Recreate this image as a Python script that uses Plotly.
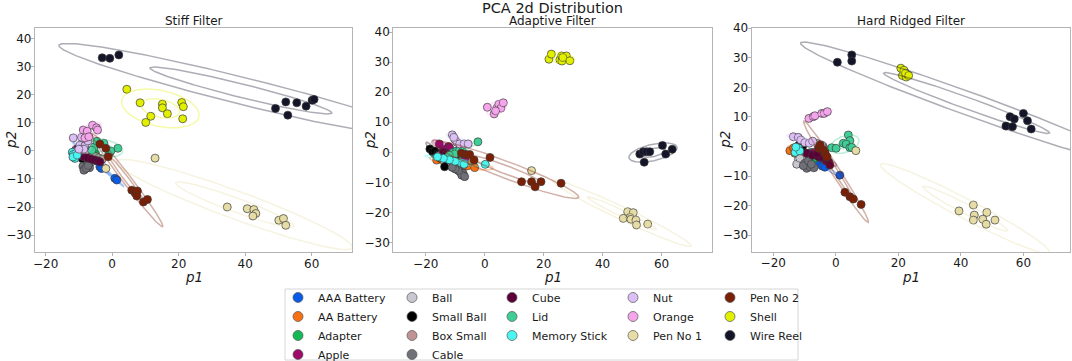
import numpy as np
import plotly.graph_objects as go

# ---------------- data ----------------
CATEGORIES = ["AAA Battery", "AA Battery", "Adapter", "Apple", "Ball", "Small Ball",
              "Box Small", "Cable", "Cube", "Lid", "Memory Stick", "Nut", "Orange",
              "Pen No 1", "Pen No 2", "Shell", "Wire Reel"]
COLORS = ["#0a5ce6", "#f77012", "#13b955", "#9c0a6a", "#c8c8d0", "#000000",
          "#c09494", "#707078", "#5c0038", "#3fcf96", "#4af5f0", "#dcc0f5", "#f5a5ec",
          "#e6dca5", "#7a2005", "#e2f000", "#15152a"]
LEGEND_COLUMN = [1, 1, 1, 1, 2, 2, 2, 2, 3, 3, 3, 4, 4, 4, 5, 5, 5]
PANEL_TITLES = ["Stiff Filter", "Adaptive Filter", "Hard Ridged Filter"]
MAIN_TITLE = "PCA 2d Distribution"
X_LABEL = "p1"
Y_LABEL = "p2"
X_TICKS = [-20, 0, 20, 40, 60]
Y_TICKS = [-30, -20, -10, 0, 10, 20, 30, 40]

STIFF_X = {
    "AAA Battery": [-9.5, -8, -6.5, -5, -3.7, -3.2, 0.8, 1.4],
    "AA Battery": [-11, -10.5, -10, -9.5, -9, -10.2],
    "Adapter": [-7, -6, -5, -6.5, -5.5],
    "Apple": [-10, -9.5, -9, -8.5, -8],
    "Ball": [-8, -7.5, -7, -6.5, -8.2],
    "Small Ball": [-10, -9.5, -9, -8.5, -8, -7.5, -9, -8],
    "Box Small": [-7, -6, -5, -4, -3],
    "Cable": [-8.8, -8.2, -7.5, -7, -6.8, -8.5, -7.8, -7.2],
    "Cube": [-10.8, -9.7, -8.5, -7.3, -6.2, -5.2, -4.3, -3.7],
    "Lid": [-5.4, -4.6, -2.5, 1.7, -6.1, -1.0, -0.4],
    "Memory Stick": [-12, -11.7, -11.5, -11.2, -11, -11.8, -10.5],
    "Nut": [-11.7, -9.2, -9.7, -8.2, -8.5, -10.0, -7.3],
    "Orange": [-8.7, -7.5, -5.9, -4.7, -4.4, -8.2, -7.0],
    "Pen No 1": [12.9, 34.6, 40.6, 42.6, 43.2, 42.3, 50.1, 51.5, 52.2, -1.9],
    "Pen No 2": [-3.7, -1.9, -1.2, 5.9, 6.9, 7.6, 7.4, 9.4, 10.6],
    "Shell": [4.4, 8.4, 11.6, 10.1, 15.1, 15.1, 16.6, 20.9, 21.4, 21.2],
    "Wire Reel": [-3.0, -0.7, 2.0, 49.1, 52.2, 52.8, 55.5, 58.3, 60.1, 60.7],
}
STIFF_Y = {
    "AAA Battery": [0.5, -0.8, -2, -3.5, -5.7, -6.3, -9.8, -10.4],
    "AA Battery": [0, -0.5, -1, -1.5, -2, -0.8],
    "Adapter": [0, -0.5, -1, -1.5, 0.5],
    "Apple": [0.5, 0, -0.5, -1, -1.5],
    "Ball": [-4, -4.5, -5, -4.2, -5.2],
    "Small Ball": [-0.5, -1, -1.5, -2, -2.5, -3, -2.8, -1.2],
    "Box Small": [-1, -1.5, -2, -2.5, -3],
    "Cable": [-5.5, -6.5, -5.0, -4.5, -6.0, -6.9, -6.2, -5.2],
    "Cube": [0.6, -1.8, -2.2, -2.6, -3.0, -3.3, -3.6, -3.9],
    "Lid": [1.4, 3.4, 2.7, 0.9, 0.2, -1.2, -0.1],
    "Memory Stick": [-0.5, -1.3, -2.0, -2.7, -1.0, -2.2, -1.5],
    "Nut": [4.6, 4.8, 2.0, 1.8, 0.6, 0.6, 3.5],
    "Orange": [7.4, 7.0, 9.1, 8.2, 7.4, 4.6, 5.0],
    "Pen No 1": [-2.6, -20.0, -20.6, -20.9, -22.3, -23.2, -24.7, -24.1, -26.5, -6.3],
    "Pen No 2": [2.4, 0.9, -2.1, -14.0, -15.0, -14.3, -16.1, -18.2, -17.3],
    "Shell": [21.9, 17.1, 12.3, 10.1, 16.6, 15.3, 13.2, 17.2, 15.7, 11.4],
    "Wire Reel": [33.1, 32.9, 34.1, 15.1, 17.4, 12.7, 17.1, 15.9, 18.0, 18.3],
}

ADAPTIVE_X = {
    "AAA Battery": [-17, -15, -13, -11, -9, -8],
    "AA Battery": [-16.3, -6.8, -5.7, -4.0, -3.4, -4.5, -15],
    "Adapter": [-12, -11, -10, -9, -8],
    "Apple": [-15.4, -12.3, -13.0, -11.9, -14.1, -6.8, -10],
    "Ball": [-11, -10, -9, -8, -9.5],
    "Small Ball": [-18.6, -17.7, -16.9, -16, -15, -13.6],
    "Box Small": [-15, -13, -11, -9, -12],
    "Cable": [-8.4, -7.3, -7.8, -6.8, -9, -10, -11],
    "Cube": [-14, -13, -12, -11, -10],
    "Lid": [-2.3, -10.7, -9.6, -8.5, -10.2, -12, -7.5],
    "Memory Stick": [0.2, -8, -10, -12, -14, -16, -7],
    "Nut": [-11.0, -10.2, -9.4, -8.5, -7.0, -5.6, -10.5],
    "Orange": [0.9, 3.2, 4.1, 4.8, 5.5, 6.3, 3.7],
    "Pen No 1": [15.9, 48.5, 50.4, 47.0, 49.3, 49.6, 51.3, 51.5, 55.3],
    "Pen No 2": [-7.9, -6.4, -5.1, -3.6, 1.8, 12.5, 15.9, 17.1, 19.1, 25.9],
    "Shell": [21.8, 22.6, 25.5, 26.1, 26.2, 27.7, 28.9, 26.5],
    "Wire Reel": [52.6, 53.8, 54.9, 56.0, 54.1, 60.3, 61.4, 63.6],
}
ADAPTIVE_Y = {
    "AAA Battery": [-0.5, -1.5, -2.5, -3, -3.8, -4.2],
    "AA Battery": [-2.6, -4.5, -4.5, -3.7, -5.1, -2.8, -2],
    "Adapter": [-1, -0.5, 0, -1.5, -2],
    "Apple": [2.8, 1.9, 1.1, 1.5, 0.8, -2.6, 0],
    "Ball": [-5, -5.5, -6, -6.5, -4.5],
    "Small Ball": [1.1, 0.2, 0.4, -0.5, -1.5, -4.8],
    "Box Small": [-1, -2, -3, -4, -1.5],
    "Cable": [-6.5, -7.0, -7.6, -8.1, -6, -5.5, -5],
    "Cube": [0, -0.5, -1, -1.5, -2],
    "Lid": [3.5, 0.0, 0.4, 0.8, -0.6, -1, 0.3],
    "Memory Stick": [-4.0, -3.5, -3, -2.5, -2, -1.5, -4],
    "Nut": [5.8, 4.4, 3.3, 2.8, 2.8, 2.8, 5.0],
    "Orange": [15.0, 12.8, 14.7, 16.0, 14.7, 16.5, 13.8],
    "Pen No 1": [-6.1, -19.8, -20.1, -22.0, -21.7, -22.3, -22.6, -24.2, -23.9],
    "Pen No 2": [-0.3, -0.7, -0.7, -2.6, -1.7, -9.8, -9.8, -11.5, -9.8, -10.3],
    "Shell": [31.0, 32.7, 30.8, 32.1, 30.4, 32.1, 30.5, 31.6],
    "Wire Reel": [-0.6, 0.2, 0.2, 0.2, -3.3, 2.3, -0.6, 1.0],
}

HARD_X = {
    "AAA Battery": [-11, -9.5, -8.2, -6.0, -4.4, -3.5, 1.3, -7],
    "AA Battery": [-14.7, -13.1, -11.7, -10.9, -12.5, -10, -13.5],
    "Adapter": [-8, -7, -6, -5, -6.5],
    "Apple": [-7, -6, -5, -4, -3],
    "Ball": [-12, -11, -10, -12.5, -11.5],
    "Small Ball": [-11.4, -11, -10.5, -12, -11.8],
    "Box Small": [-6, -5, -4, -5.5, -3.5],
    "Cable": [-9.9, -9.3, -8.3, -10.4, -7.0, -8.8, -7.8],
    "Cube": [-9.3, -7.5, -5.5, -4.4, -2.8, -2.3, -1.9, -6],
    "Lid": [4.0, 4.5, 2.4, 3.3, -1.3, 0.1, 4.5, 5.1],
    "Memory Stick": [-12.4, -13, -12, -11.5, -12.8],
    "Nut": [-13.6, -12.0, -11.2, -9.9, -8.5, -7.4, -4.5],
    "Orange": [-8.6, -7.2, -6.7, -4.5, -3.7, -2.7],
    "Pen No 1": [6.4, 39.4, 44.0, 44.3, 44.0, 48.3, 47.0, 48.1, 50.9],
    "Pen No 2": [-5.5, -5.0, -3.9, -3.4, -2.8, 2.9, 4.5, 5.6, 8.1],
    "Shell": [20.8, 21.3, 22.0, 22.5, 23.0, 21.8, 22.3, 23.3],
    "Wire Reel": [0.5, 5.1, 5.1, 54.4, 55.7, 57.1, 56.5, 60.0, 61.3, 62.5],
}
HARD_Y = {
    "AAA Battery": [-1, -2.2, -3.5, -5.2, -6.6, -7, -9.7, -4.3],
    "AA Battery": [-1.4, -2.3, -3.5, -4.0, -1, -2.5, -0.5],
    "Adapter": [-2, -2.5, -3, -3.5, -4],
    "Apple": [-2, -3, -3.5, -4, -5],
    "Ball": [-4.5, -5.5, -5, -6, -4],
    "Small Ball": [-0.1, -0.8, 0.3, -0.5, 0.5],
    "Box Small": [1, 0.5, 0, -0.5, -1],
    "Cable": [-5.7, -7.4, -6.9, -6.5, -7.2, -4.8, -6.0],
    "Cube": [-2.3, -3, -3.5, -3.5, -4.6, -5.2, -6.3, -2.5],
    "Lid": [3.9, 2.0, 1.1, 0.8, -0.4, -0.6, -0.4, -0.3],
    "Memory Stick": [-1.2, -2, -0.5, -1.5, -0.2],
    "Nut": [3.3, 3.1, 2.2, 1.3, 1.1, 1.8, 0.5],
    "Orange": [9.5, 10.1, 10.4, 11.2, 11.2, 11.8],
    "Pen No 1": [-1.4, -21.8, -19.8, -23.2, -24.9, -22.3, -24.6, -26.3, -24.9],
    "Pen No 2": [-0.6, 0.5, -1.2, -2.3, -3.5, -15.5, -17.0, -17.8, -19.6],
    "Shell": [26.5, 24.0, 25.3, 23.5, 24.2, 25.8, 24.8, 24.0],
    "Wire Reel": [28.5, 31.0, 28.9, 6.9, 10.1, 9.3, 6.7, 11.2, 8.7, 5.9],
}

PANELS = [(STIFF_X, STIFF_Y), (ADAPTIVE_X, ADAPTIVE_Y), (HARD_X, HARD_Y)]

# ---------------- layout geometry (page pixels) ----------------
W, H = 1072, 361
X_DOMAINS = [(35, 352), (393.3, 711.7), (751.7, 1070)]
Y_DOMAINS = [(28, 252), (28.3, 252.3), (27.7, 251.7)]
X_RANGES = [(-23.2, 72.1), (-31.0, 77.0), (-26.9, 74.9)]
Y_RANGES = [(-36.0, 43.7), (-33.3, 41.3), (-35.6, 40.2)]
P2_LABEL_X = [11, 370, 725]
TEXT_COLOR = "#1a1a1a"
FONT = "DejaVu Sans"


def px(xp):
    return xp / W


def py(yp):
    return 1 - yp / H


def hex_rgba(h, a):
    h = h.lstrip("#")
    r, g, b = int(h[0:2], 16), int(h[2:4], 16), int(h[4:6], 16)
    return f"rgba({r},{g},{b},{a})"


def confidence_ellipse(x, y, n_std):
    x = np.asarray(x, float)
    y = np.asarray(y, float)
    cov = np.cov(x, y)
    pearson = cov[0, 1] / np.sqrt(cov[0, 0] * cov[1, 1])
    rx, ry = np.sqrt(1 + pearson), np.sqrt(1 - pearson)
    t = np.linspace(0, 2 * np.pi, 240)
    ex, ey = rx * np.cos(t), ry * np.sin(t)
    c = s = np.sqrt(0.5)
    xr, yr = ex * c - ey * s, ex * s + ey * c
    sx, sy = np.sqrt(cov[0, 0]) * n_std, np.sqrt(cov[1, 1]) * n_std
    return xr * sx + x.mean(), yr * sy + y.mean()


fig = go.Figure()

for p, (PX, PY) in enumerate(PANELS):
    xa = "x" if p == 0 else f"x{p+1}"
    ya = "y" if p == 0 else f"y{p+1}"
    for cat, col in zip(CATEGORIES, COLORS):
        xs, ys = PX[cat], PY[cat]
        fig.add_trace(go.Scatter(
            x=xs, y=ys, mode="markers", xaxis=xa, yaxis=ya, showlegend=False,
            marker=dict(size=8, color=col, line=dict(color="#3a3a3a", width=0.7)),
            hoverinfo="skip"))
        for n in (1, 2):
            ex, ey = confidence_ellipse(xs, ys, n)
            fig.add_trace(go.Scatter(
                x=ex, y=ey, mode="lines", xaxis=xa, yaxis=ya, showlegend=False,
                line=dict(color=hex_rgba(col, 0.35), width=1.5), hoverinfo="skip"))

# legend entries (column-wise like the original)
for cat, col, lc in zip(CATEGORIES, COLORS, LEGEND_COLUMN):
    fig.add_trace(go.Scatter(
        x=[None], y=[None], mode="markers", name=cat,
        legend="legend" if lc == 1 else f"legend{lc}",
        marker=dict(size=10, color=col, line=dict(color="#555555", width=0.7)),
        showlegend=True))

layout = dict(
    width=W, height=H, margin=dict(l=0, r=0, t=0, b=0, autoexpand=False),
    paper_bgcolor="white", plot_bgcolor="white",
    font=dict(family=FONT, color=TEXT_COLOR, size=12),
)

for p in range(3):
    sfx = "" if p == 0 else str(p + 1)
    x0, x1 = X_DOMAINS[p]
    y0, y1 = Y_DOMAINS[p]
    common = dict(
        showline=True, mirror=True, linecolor="#b4b4b4", linewidth=1.2,
        ticks="outside", ticklen=3, tickcolor="#b4b4b4", showgrid=False, zeroline=False,
        tickfont=dict(size=12, family=FONT, color=TEXT_COLOR), automargin=False,
        ticklabelstandoff=-3,
    )
    layout[f"xaxis{sfx}"] = dict(
        domain=[px(x0), px(x1)], range=list(X_RANGES[p]), anchor=f"y{sfx}",
        tickvals=X_TICKS, ticktext=[str(v).replace("-", "\u2212") for v in X_TICKS], **common)
    layout[f"yaxis{sfx}"] = dict(
        domain=[py(y1), py(y0)], range=list(Y_RANGES[p]), anchor=f"x{sfx}",
        tickvals=Y_TICKS, ticktext=[str(v).replace("-", "\u2212") for v in Y_TICKS], **common)

annotations = [dict(text=MAIN_TITLE, x=px(552.5), y=py(8.5), xref="paper", yref="paper",
                    showarrow=False, xanchor="center", yanchor="middle",
                    font=dict(size=14.5, family=FONT, color=TEXT_COLOR))]
for p, t in enumerate(PANEL_TITLES):
    x0, x1 = X_DOMAINS[p]
    annotations.append(dict(text=t, x=px((x0 + x1) / 2), y=py(21), xref="paper", yref="paper",
                            showarrow=False, xanchor="center", yanchor="middle",
                            font=dict(size=12, family=FONT, color=TEXT_COLOR)))
    # axis titles
    annotations.append(dict(text=f"<i>{X_LABEL}</i>", x=px((x0 + x1) / 2), y=py(276.5),
                            xref="paper", yref="paper", showarrow=False,
                            xanchor="center", yanchor="middle",
                            font=dict(size=13.5, family=FONT, color=TEXT_COLOR)))
    y0, y1 = Y_DOMAINS[p]
    annotations.append(dict(text=f"<i>{Y_LABEL}</i>", x=px(P2_LABEL_X[p]), y=py((y0 + y1) / 2),
                            xref="paper", yref="paper", showarrow=False, textangle=-90,
                            xanchor="center", yanchor="middle",
                            font=dict(size=13.5, family=FONT, color=TEXT_COLOR)))
layout["annotations"] = annotations

LEG_MARKER_X = [299, 413, 513, 634, 731]
for i, mx in enumerate(LEG_MARKER_X):
    key = "legend" if i == 0 else f"legend{i+1}"
    layout[key] = dict(
        x=px(mx - 21), y=py(283), xanchor="left", yanchor="top",
        bgcolor="rgba(0,0,0,0)", borderwidth=0, itemsizing="trace",
        font=dict(size=11, family=FONT, color=TEXT_COLOR), tracegroupgap=0,
    )

layout["shapes"] = [dict(type="rect", xref="paper", yref="paper",
                         x0=px(285), x1=px(798), y0=py(360), y1=py(289),
                         line=dict(color="#d6d6d6", width=1), fillcolor="rgba(0,0,0,0)")]

fig.update_layout(**layout)
# the page itself adds no extra white border around the figure
fig.write_html("out.html", config={"displayModeBar": False},
               post_script="document.body.style.margin='0px';")
